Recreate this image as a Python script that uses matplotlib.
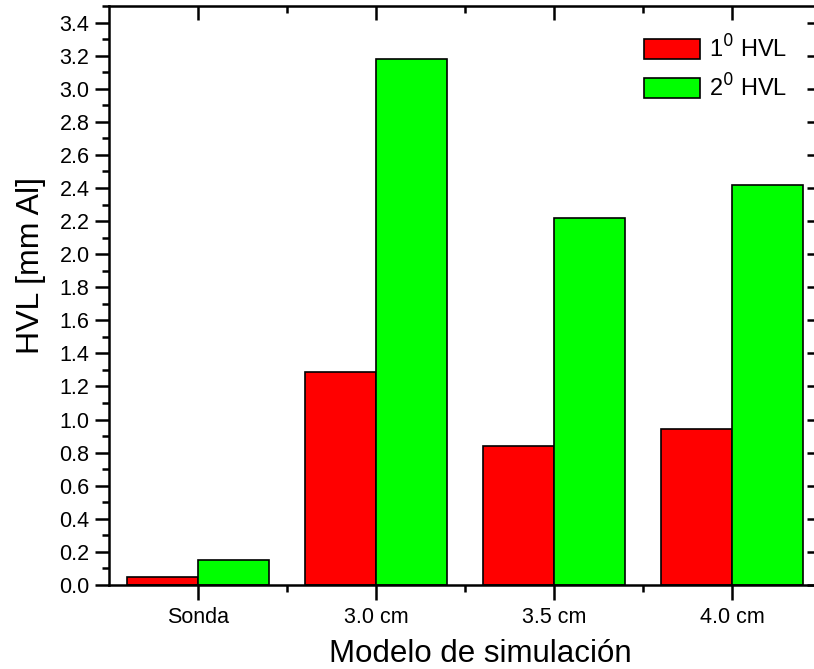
import numpy as np
import matplotlib.pyplot as plt
from matplotlib.ticker import MultipleLocator, FixedLocator

plt.rcParams['font.family'] = ['Liberation Sans', 'DejaVu Sans']

modelos = ['Sonda', '3.0 cm', '3.5 cm', '4.0 cm']
hvl1 = [0.05, 1.29, 0.84, 0.94]
hvl2 = [0.15, 3.18, 2.22, 2.42]
series_labels = ['1$^0$ HVL', '2$^0$ HVL']

fig = plt.figure(figsize=(8.14, 6.69), dpi=100)
ax = fig.add_axes([109 / 814, 84 / 669, 712 / 814, 579 / 669])

x = np.arange(len(modelos))
w = 0.4
ax.bar(x - w / 2, hvl1, w, color='#ff0000', edgecolor='black', linewidth=1.2,
       label=series_labels[0])
ax.bar(x + w / 2, hvl2, w, color='#00ff00', edgecolor='black', linewidth=1.2,
       label=series_labels[1])

ax.set_xlim(-0.5, len(modelos) - 0.5)
ax.set_ylim(0, 3.5)
ax.set_xticks(x)
ax.set_xticklabels(modelos)
ax.xaxis.set_minor_locator(FixedLocator(x[:-1] + 0.5))
ax.yaxis.set_major_locator(MultipleLocator(0.2))
ax.yaxis.set_minor_locator(MultipleLocator(0.1))
ax.yaxis.set_major_formatter(plt.FormatStrFormatter('%.1f'))

for s in ax.spines.values():
    s.set_linewidth(1.8)

ax.tick_params(axis='both', which='major', direction='out', length=10, width=1.8,
               labelsize=15.5)
ax.tick_params(axis='both', which='minor', direction='out', length=5, width=1.8)
ax.tick_params(axis='x', which='major', length=11, pad=5)
ax.tick_params(axis='y', which='major', pad=4)

# inward ticks on the top and right edges
top = ax.secondary_xaxis('top')
top.set_xticks(x)
top.xaxis.set_minor_locator(FixedLocator(x[:-1] + 0.5))
top.tick_params(which='major', direction='in', length=10, width=1.8, labeltop=False)
top.tick_params(which='minor', direction='in', length=5, width=1.8)
right = ax.secondary_yaxis('right')
right.yaxis.set_major_locator(MultipleLocator(0.2))
right.yaxis.set_minor_locator(MultipleLocator(0.1))
right.tick_params(which='major', direction='in', length=10, width=1.8, labelright=False)
right.tick_params(which='minor', direction='in', length=5, width=1.8)

ax.set_ylabel('HVL [mm Al]', fontsize=23)
ax.yaxis.set_label_coords(-0.088, 0.551)
ax.set_xlabel('Modelo de simulación', fontsize=22.5)
ax.xaxis.set_label_coords(0.521, -0.093)

ax.legend(loc='upper right', bbox_to_anchor=(0.952, 0.95), frameon=False,
          fontsize=17, handlelength=2.4, handleheight=0.9, handletextpad=0.35,
          labelspacing=0.5, borderpad=0, borderaxespad=0)

fig.savefig('out.png', dpi=100)
